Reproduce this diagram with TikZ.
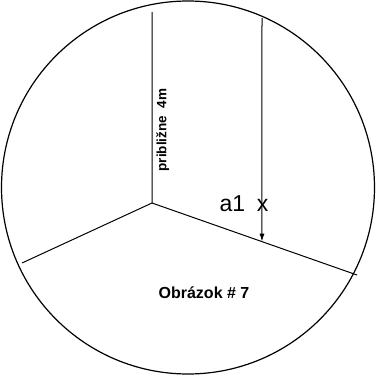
\documentclass[tikz,border=0pt]{standalone}
\usepackage{fontspec}
\setmainfont{Liberation Sans}
\usetikzlibrary{arrows.meta,calc}
\tikzset{>={Latex[length=8pt,width=5pt]}}
\tikzset{wall/.style={line width=1pt,black}}
\tikzset{label/.style={font=\bfseries,inner sep=0pt}}
\begin{document}
\begin{tikzpicture}[x=1pt,y=-1pt]
  \useasboundingbox (0,0) rectangle (376,375);
  % ROOM
  \draw[line width=1.2pt] (188,187.5) circle (186.5);
  \coordinate (O)  at (152,203);
  \coordinate (T)  at (152,12);
  \coordinate (L)  at (22,263);
  \coordinate (R)  at (357,275);
  \draw[wall] (T) -- (O) -- (L);
  \draw[wall] (O) -- (R);
  % DIMENSION
  \coordinate (A)  at (262,18);
  \coordinate (Ae) at ($(O)!{110/205}!(R)$);
  \draw[wall,->] (A) -- (Ae);
  % LABELS
  \node[label,font=\bfseries\fontsize{13.5}{16}\selectfont,rotate=90,anchor=base]
    (len) at (166.5,130) {približne\ \ 4m};
  \node[inner sep=0pt,anchor=base,font=\fontsize{23}{27}\selectfont]
    (ax) at (244,211) {a1\enspace x};
  \node[label,font=\bfseries\fontsize{16}{19}\selectfont,anchor=base]
    (fig) at (204,298) {Obrázok \# 7};
\end{tikzpicture}
\end{document}
